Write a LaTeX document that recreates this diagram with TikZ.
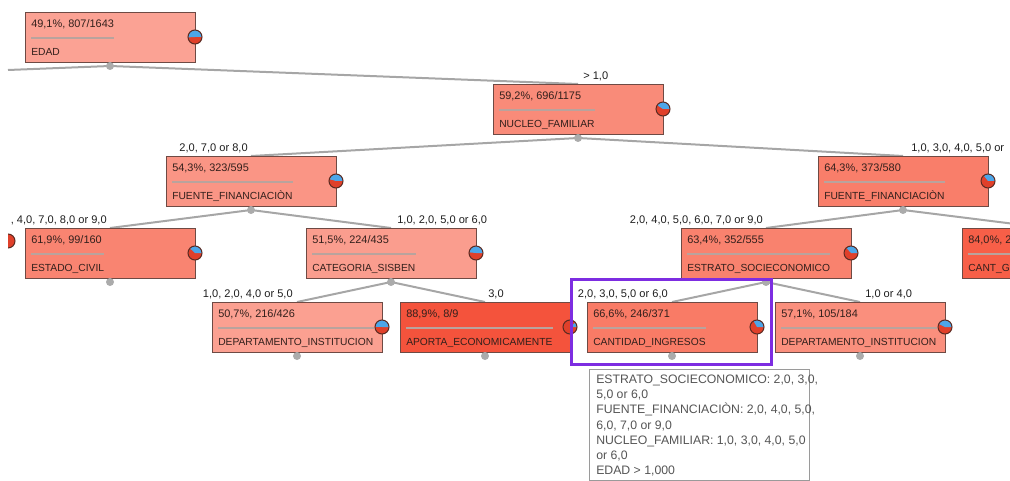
\documentclass[tikz,border=0pt]{standalone}
\usepackage{fontspec}
\setmainfont{Liberation Sans}
\usetikzlibrary{backgrounds,calc}
\definecolor{boxc}{HTML}{6E4A44}
\definecolor{txtc}{HTML}{33201C}
\definecolor{lblc}{HTML}{1E1E1E}
\definecolor{connc}{HTML}{A6A6A6}
\definecolor{sepc}{HTML}{B9A39D}
\definecolor{dotc}{HTML}{ABABAB}
\definecolor{piered}{HTML}{E0402A}
\definecolor{pieblue}{HTML}{4DA6E8}
\definecolor{piec}{HTML}{5A2B22}
\definecolor{purp}{HTML}{7D2DE1}
\definecolor{tipb}{HTML}{9A9A9A}
\definecolor{tipt}{HTML}{555555}
\definecolor{fA}{HTML}{FBA294}
\definecolor{fB}{HTML}{F98B79}
\definecolor{fC}{HTML}{FA9585}
\definecolor{fD}{HTML}{F97E6A}
\definecolor{fE}{HTML}{F98471}
\definecolor{fF}{HTML}{FA9D8E}
\definecolor{fG}{HTML}{F9826E}
\definecolor{fH}{HTML}{F75F48}
\definecolor{fI}{HTML}{FBA091}
\definecolor{fJ}{HTML}{F4533C}
\definecolor{fK}{HTML}{F97B66}
\definecolor{fL}{HTML}{FA8F7D}
\tikzset{
  tbox/.style={rectangle, draw=boxc, line width=0.75pt, minimum width=127.5pt,
    minimum height=37.5pt, anchor=north west, inner sep=0pt},
  ttexta/.style={font=\fontsize{8.2}{9}\selectfont, text=txtc, inner sep=0pt},
  ttextb/.style={font=\fontsize{7.7}{9}\selectfont, text=txtc, inner sep=0pt},
  elabel/.style={font=\fontsize{8.3}{9}\selectfont, text=lblc, inner sep=0pt},
  conn/.style={draw=connc, line width=1.5pt},
  sepl/.style={draw=sepc, line width=0.8pt},
  dotf/.style={fill=dotc},
  pieline/.style={draw=piec, line width=0.75pt},
  hilite/.style={rectangle, draw=purp, line width=2.25pt, minimum width=150pt,
    minimum height=63.75pt, anchor=north west, inner sep=0pt},
  tipbox/.style={rectangle, draw=tipb, fill=white, line width=0.75pt, minimum width=165pt,
    minimum height=83.25pt, anchor=north west, inner sep=0pt},
  tiptext/.style={font=\fontsize{9.2}{10}\selectfont, text=tipt, inner sep=0pt, anchor=base west},
}
% #1 name, #2 left x, #3 top y, #4 fill, #5 line 1, #6 line 2, #7 blue angle
\newcommand\tnode[7]{%
  \node[tbox, fill=#4] (#1) at (#2,#3) {};
  \node[ttexta, anchor=base west] (#1-a) at (#2+6,#3+15.5) {#5};
  \node[ttextb, anchor=base west] (#1-b) at (#2+6,#3+43.5) {#6};
  \coordinate (#1-s) at (#2+6,#3+26);
  \draw[sepl] let \p1=(#1-a.east), \p2=(#1-b.east), \p3=(#1-s) in (\p3) -- ({max(\x1,\x2)},\y3);
  \coordinate (#1-p) at (#2+170,#3+25);
  \fill[piered] (#1-p) circle[radius=5.25pt];
  \fill[pieblue] (#1-p) -- ++(0:5.25pt) arc[start angle=0, end angle=#7, radius=5.25pt] -- cycle;
  \draw[pieline] (#1-p) circle[radius=5.25pt];
  \coordinate (#1-t) at (#2+85,#3);
  \coordinate (#1-d) at (#2+85,#3+54);
  \fill[dotf] (#1-d) circle[radius=3pt];
}
\begin{document}
\begin{tikzpicture}[x=0.75pt, y=-0.75pt]
\useasboundingbox (0,0) rectangle (1010,481);

\tnode{edad}{25}{12}{fA}{49,1\%, 807/1643}{EDAD}{183.2}
\tnode{nuc}{493}{84}{fB}{59,2\%, 696/1175}{NUCLEO\_FAMILIAR}{146.9}
\tnode{fl}{166}{156}{fC}{54,3\%, 323/595}{FUENTE\_FINANCIACIÒN}{164.5}
\tnode{fr}{818}{156}{fD}{64,3\%, 373/580}{FUENTE\_FINANCIACIÒN}{128.5}
\tnode{est}{25}{228}{fE}{61,9\%, 99/160}{ESTADO\_CIVIL}{137.2}
\tnode{cat}{306}{228}{fF}{51,5\%, 224/435}{CATEGORIA\_SISBEN}{174.6}
\tnode{estr}{681}{228}{fG}{63,4\%, 352/555}{ESTRATO\_SOCIECONOMICO}{131.8}
\tnode{cantg}{962}{228}{fH}{84,0\%, 2}{CANT\_G}{57.6}
\tnode{dl}{212}{302}{fI}{50,7\%, 216/426}{DEPARTAMENTO\_INSTITUCION}{177.5}
\tnode{apo}{400}{302}{fJ}{88,9\%, 8/9}{APORTA\_ECONOMICAMENTE}{40}
\tnode{cant}{587}{302}{fK}{66,6\%, 246/371}{CANTIDAD\_INGRESOS}{120.2}
\tnode{dr}{775}{302}{fL}{57,1\%, 105/184}{DEPARTAMENTO\_INSTITUCION}{154.4}

% partially visible pie of a node off the left edge
\begin{scope}
  \clip (8,200) rectangle (30,280);
  \coordinate (offp) at (8,241);
  \fill[piered] (offp) circle[radius=5.25pt];
  \draw[pieline] (offp) circle[radius=5.25pt];
\end{scope}
\coordinate (offl) at (8,70);

\begin{pgfonlayer}{background}
  \draw[conn] (edad-d) -- (offl);
  \draw[conn] (edad-d) -- (nuc-t);
  \draw[conn] (nuc-d) -- (fl-t);
  \draw[conn] (nuc-d) -- (fr-t);
  \draw[conn] (fl-d) -- (est-t);
  \draw[conn] (fl-d) -- (cat-t);
  \draw[conn] (fr-d) -- (estr-t);
  \draw[conn] (fr-d) -- (cantg-t);
  \draw[conn] (cat-d) -- (dl-t);
  \draw[conn] (cat-d) -- (apo-t);
  \draw[conn] (estr-d) -- (cant-t);
  \draw[conn] (estr-d) -- (dr-t);
\end{pgfonlayer}

\node[elabel, anchor=base west] (l-nuc) at (583,79.5) {> 1,0};
\node[elabel, anchor=base east] (l-fl) at (248,151.5) {2,0, 7,0 or 8,0};
\node[elabel, anchor=base west] (l-fr) at (911,151.5) {1,0, 3,0, 4,0, 5,0 or};
\node[elabel, anchor=base east] (l-est) at (107,223.5) {, 4,0, 7,0, 8,0 or 9,0};
\node[elabel, anchor=base west] (l-cat) at (397,223.5) {1,0, 2,0, 5,0 or 6,0};
\node[elabel, anchor=base east] (l-estr) at (763,223.5) {2,0, 4,0, 5,0, 6,0, 7,0 or 9,0};
\node[elabel, anchor=base east] (l-dl) at (293,297.5) {1,0, 2,0, 4,0 or 5,0};
\node[elabel, anchor=base west] (l-apo) at (488,297.5) {3,0};
\node[elabel, anchor=base east] (l-cant) at (668,297.5) {2,0, 3,0, 5,0 or 6,0};
\node[elabel, anchor=base west] (l-dr) at (865,297.5) {1,0 or 4,0};

\node[hilite] (sel) at (570,278) {};

\node[tipbox] (tooltip) at (589,369) {};
\foreach \t [count=\i from 0] in {{ESTRATO\_SOCIECONOMICO: 2,0, 3,0,},{5,0 or 6,0},{FUENTE\_FINANCIACIÒN: 2,0, 4,0, 5,0,},{6,0, 7,0 or 9,0},{NUCLEO\_FAMILIAR: 1,0, 3,0, 4,0, 5,0},{or 6,0},{EDAD > 1,000}}
  \node[tiptext] (tip\i) at (596,{383.5+15.2*\i}) {\t};
\end{tikzpicture}
\end{document}
